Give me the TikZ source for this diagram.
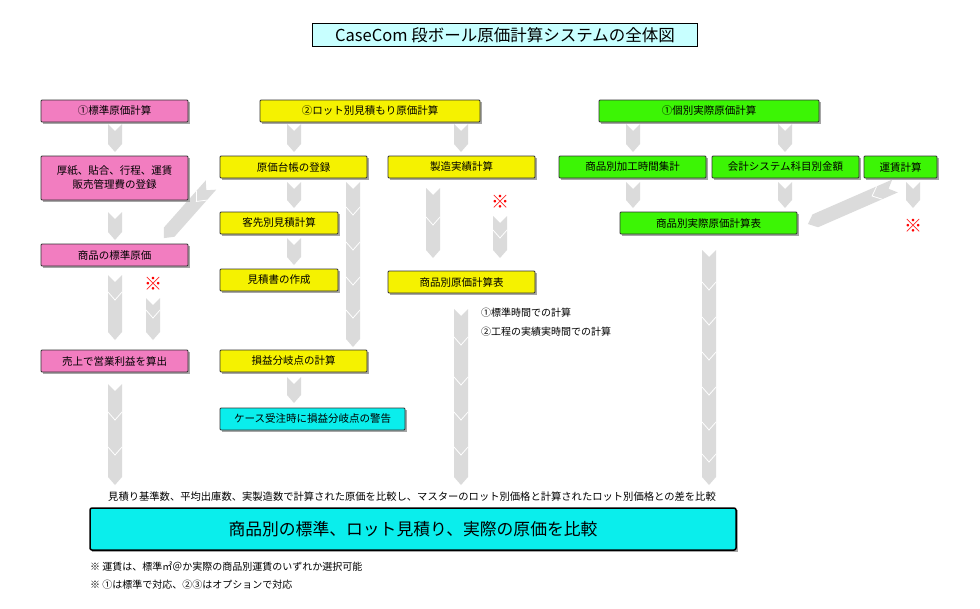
\documentclass[tikz,border=0pt]{standalone}
\usepackage{fontspec}
\setmainfont{Noto Sans CJK JP}
\begin{document}
\begin{tikzpicture}[x=1pt,y=-1pt,
  box/.style={draw=black!80,line width=0.8pt,rounded corners=1pt,inner sep=1pt,font=\fontsize{10.5}{14}\selectfont,align=center},
  garrow/.style={fill=black!14},
  chev/.style={draw=white,line width=0.8pt},
  note/.style={font=\fontsize{10}{12}\selectfont,anchor=west,inner sep=0pt}]
\useasboundingbox (0,0) rectangle (980,608);
\definecolor{pk}{RGB}{242,125,192}
\definecolor{yl}{RGB}{245,242,0}
\definecolor{gr}{RGB}{60,245,5}
\definecolor{cy}{RGB}{10,238,236}
\definecolor{tc}{RGB}{200,255,255}
\newcommand\bx[7]{\fill[black!35] ({#2+2},{#3+2}) rectangle ({#4+2},{#5+2});
 \node[box,fill=#6,minimum width={(#4-#2)*1pt},minimum height={(#5-#3)*1pt}] (#1) at ({(#2+#4)/2},{(#3+#5)/2}) {#7};}
\newcommand\garr[3]{\fill[garrow] ({#1-7},{#2}) -- (#1,{#2+7}) -- ({#1+7},#2) -- ({#1+7},{#3-8}) -- (#1,#3) -- ({#1-7},{#3-8}) -- cycle;}
\newcommand\chv[2]{\draw[chev] ({#1-7},{#2-8}) -- (#1,#2) -- ({#1+7},{#2-8});}
\newcommand\kome[2]{\node[text=red,font=\fontsize{18}{18}\selectfont,inner sep=0pt] at (#1,#2) {※};}
% title
\node[draw=black,line width=0.8pt,fill=tc,inner sep=2pt,minimum width=385pt,minimum height=23pt,font=\fontsize{16.5}{18}\selectfont] (title) at (505,35) {CaseCom 段ボール原価計算システムの全体図};
% arrows
\garr{115}{124}{152}\garr{115}{212}{240}\garr{115}{275}{340}\chv{115}{300}
\garr{115}{384}{485}\chv{115}{420}\chv{115}{455}
\kome{153}{284}\garr{153}{298}{340}\chv{153}{318}
\garr{294}{124}{152}\garr{294}{182}{208}\garr{294}{238}{265}\garr{294}{377}{403}
\garr{353}{182}{347}\chv{353}{215}\chv{353}{250}\chv{353}{285}\chv{353}{318}
\garr{461}{124}{152}
\garr{433}{188}{258}\chv{433}{225}
\kome{500}{202}\garr{500}{216}{258}\chv{500}{238}
\garr{461}{309}{485}\chv{461}{345}\chv{461}{385}\chv{461}{420}\chv{461}{455}
\garr{633}{124}{152}\garr{785}{124}{152}\garr{633}{182}{208}\garr{785}{182}{208}
\garr{913}{182}{208}\kome{913}{226}
\garr{709}{250}{485}\chv{709}{290}\chv{709}{325}\chv{709}{360}\chv{709}{395}\chv{709}{430}\chv{709}{462}
\begin{scope}[shift={(211,185)},rotate=-41.6]\garr{0}{0}{71}\chv{0}{22}\end{scope}
\begin{scope}[shift={(895,186)},rotate=-66.4]\garr{0}{0}{95}\chv{0}{25}\end{scope}
% pink
\bx{a1}{41}{100}{188}{122}{pk}{①標準原価計算}
\bx{a2}{41}{156}{188}{200}{pk}{厚紙、貼合、行程、運賃\\販売管理費の登録}
\bx{a3}{41}{244}{188}{266}{pk}{商品の標準原価}
\bx{a4}{41}{350}{188}{372}{pk}{売上で営業利益を算出}
% yellow
\bx{b1}{260}{100}{480}{122}{yl}{②ロット別見積もり原価計算}
\bx{b2}{220}{156}{367}{178}{yl}{原価台帳の登録}
\bx{b3}{220}{212}{338}{234}{yl}{客先別見積計算}
\bx{b4}{220}{269}{338}{291}{yl}{見積書の作成}
\bx{b5}{220}{350}{367}{372}{yl}{損益分岐点の計算}
\bx{b6}{220}{408}{405}{430}{cy}{ケース受注時に損益分岐点の警告}
\bx{b7}{388}{156}{535}{178}{yl}{製造実績計算}
\bx{b8}{388}{271}{535}{293}{yl}{商品別原価計算表}
% green
\bx{c1}{599}{100}{819}{122}{gr}{①個別実際原価計算}
\bx{c2}{559}{156}{706}{178}{gr}{商品別加工時間集計}
\bx{c3}{712}{156}{859}{178}{gr}{会計システム科目別金額}
\bx{c4}{864}{156}{937}{178}{gr}{運賃計算}
\bx{c5}{620}{212}{797}{234}{gr}{商品別実際原価計算表}
% notes
\node[note] (n1) at (481,313) {①標準時間での計算};
\node[note] (n2) at (481,332) {②工程の実績実時間での計算};
\node[font=\fontsize{10.3}{12}\selectfont,inner sep=0pt] (n3) at (412,497) {見積り基準数、平均出庫数、実製造数で計算された原価を比較し、マスターのロット別価格と計算されたロット別価格との差を比較};
\fill[black!35] (92,510) rectangle (738,552);
\node[draw=black,line width=1.5pt,rounded corners=2pt,fill=cy,minimum width=646pt,minimum height=42pt,font=\fontsize{16.8}{20}\selectfont] (big) at (413,529) {商品別の標準、ロット見積り、実際の原価を比較};
\node[note] (f1) at (90,567) {※ 運賃は、標準㎡＠か実際の商品別運賃のいずれか選択可能};
\node[note] (f2) at (90,585) {※ ①は標準で対応、②③はオプションで対応};
\end{tikzpicture}
\end{document}
